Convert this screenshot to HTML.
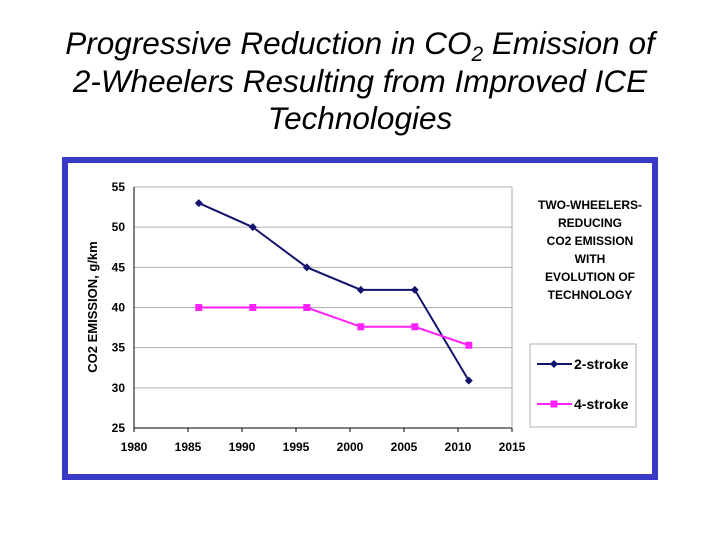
<!DOCTYPE html>
<html><head><meta charset="utf-8"><style>
body{margin:0;width:720px;height:540px;background:#fff;overflow:hidden;font-family:"Liberation Sans",sans-serif}
#title{position:absolute;left:0;top:25px;width:720px;text-align:center;font-style:italic;font-size:31.5px;line-height:37.5px;color:#000}
#title sub{font-size:21px;line-height:0;vertical-align:-7px}
#frame{position:absolute;left:62px;top:157px;width:584px;height:311px;border:6px solid #3a3ac8;background:#fff}
svg{position:absolute;left:0;top:0}
</style></head><body>
<div id="title">Progressive Reduction in CO<sub>2</sub> Emission of<br>2-Wheelers Resulting from Improved ICE<br>Technologies</div>
<div id="frame"></div>
<svg id="chart" width="720" height="540" font-family="Liberation Sans, sans-serif"></svg>
<script>
const years=[1986,1991,1996,2001,2006,2011];
const twoStroke=[53,50,45,42.2,42.2,30.9];
const fourStroke=[40,40,40,37.6,37.6,35.3];
const xTicks=[1980,1985,1990,1995,2000,2005,2010,2015];
const yTicks=[25,30,35,40,45,50,55];
const svg=document.getElementById('chart');
const NS='http://www.w3.org/2000/svg';
const X0=134,X1=512,Y0=428,Y1=187;
const xs=v=>X0+(v-1980)/(2015-1980)*(X1-X0);
const ys=v=>Y0-(v-25)/(55-25)*(Y0-Y1);
function mk(t,a,txt){const e=document.createElementNS(NS,t);for(const k in a)e.setAttribute(k,a[k]);if(txt!==undefined)e.textContent=txt;svg.appendChild(e);return e;}
yTicks.forEach(v=>{
 const g=mk('line',{x1:X0,x2:X1,y1:ys(v),y2:ys(v),stroke:v===25?'#000':'#b0b0b0','stroke-width':1});
 
 
 const t=mk('text',{x:X0-9,y:ys(v)+4,'text-anchor':'end','font-size':12,'font-weight':'bold'},v);
 
 
});
const ax=mk('line',{x1:X0,x2:X0,y1:Y1,y2:Y0,stroke:'#000'});


const rb=mk('line',{x1:X1,x2:X1,y1:Y1,y2:Y0,stroke:'#b0b0b0'});


xTicks.forEach(v=>{
 const tk=mk('line',{x1:xs(v),x2:xs(v),y1:Y0,y2:Y0+4,stroke:'#000'});
 
 
 const t=mk('text',{x:xs(v),y:Y0+23,'text-anchor':'middle','font-size':12,'font-weight':'bold'},v);
 
 
});
const yt=mk('text',{x:97,y:307,'text-anchor':'middle','font-size':13,'font-weight':'bold',transform:'rotate(-90 97 307)'},'CO2 EMISSION, g/km');


function series(vals,color,shape,name){
 const p=mk('polyline',{points:vals.map((v,i)=>xs(years[i])+','+ys(v)).join(' '),fill:'none',stroke:color,'stroke-width':2});
 
 
 vals.forEach((v,i)=>{
  const x=xs(years[i]),y=ys(v);
  const m=shape==='d'?mk('polygon',{points:`${x},${y-4} ${x+4},${y} ${x},${y+4} ${x-4},${y}`,fill:color}):mk('rect',{x:x-3.5,y:y-3.5,width:7,height:7,fill:color});
  
  
 });
}
series(twoStroke,'#14146e','d','two-stroke');
series(fourStroke,'#ff22ff','s','four-stroke');
['TWO-WHEELERS-','REDUCING','CO2 EMISSION','WITH','EVOLUTION OF','TECHNOLOGY'].forEach((s,i)=>{
 const t=mk('text',{x:590,y:209+i*18,'text-anchor':'middle','font-size':12,'font-weight':'bold'},s);
 
 
});
const lb=mk('rect',{x:530,y:344,width:106,height:83,fill:'#fff',stroke:'#b0b0b0'});


[['2-stroke','#14146e','d',364],['4-stroke','#ff22ff','s',404]].forEach(([n,c,s,y])=>{
 const l=mk('line',{x1:537,x2:572,y1:y,y2:y,stroke:c,'stroke-width':2});
 
 
 const m=s==='d'?mk('polygon',{points:`554,${y-4} 558,${y} 554,${y+4} 550,${y}`,fill:c}):mk('rect',{x:550.5,y:y-3.5,width:7,height:7,fill:c});
 
 
 const t=mk('text',{x:574,y:y+5,'font-size':14,'font-weight':'bold'},n);
 
 
});
</script>
</body></html>
